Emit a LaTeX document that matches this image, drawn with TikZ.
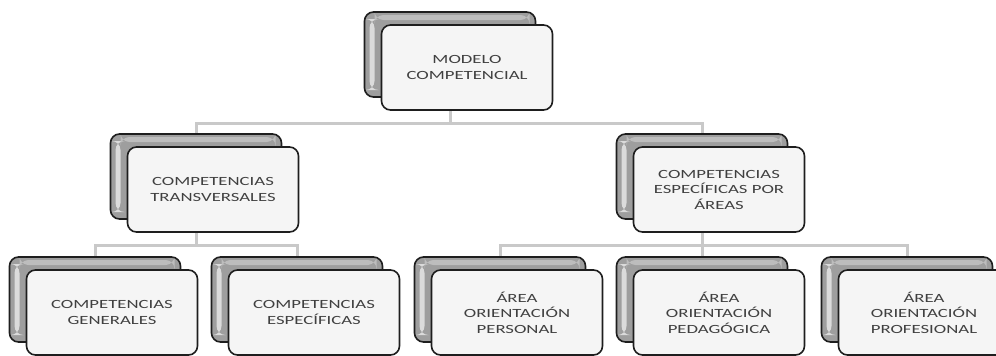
\documentclass[tikz,border=0pt]{standalone}
\usepackage{fontspec}
\newfontfamily\boxfont[FakeStretch=1.5]{Carlito}
\usetikzlibrary{backgrounds}
\definecolor{conncol}{HTML}{C9C9C9}
\definecolor{txtcol}{HTML}{404040}
\definecolor{edgecol}{HTML}{1E1E1E}
\begin{document}
\begin{tikzpicture}[x=1pt,y=-1pt,
  backbox/.style={draw=edgecol, line width=1.6pt, rounded corners=9pt,
    minimum width=171pt, minimum height=85pt, inner sep=0pt,
    fill=black!38,
    path picture={
      \fill[black!14] ([xshift=5pt,yshift=-7pt]path picture bounding box.north west)
        rectangle ([xshift=10pt,yshift=7pt]path picture bounding box.south west);
      \fill[black!26] ([xshift=10pt,yshift=-3pt]path picture bounding box.north west)
        rectangle ([xshift=-6pt,yshift=-8pt]path picture bounding box.north east);
    }},
  frontbox/.style={draw=edgecol, line width=1.6pt, rounded corners=9pt,
    minimum width=171pt, minimum height=85pt, inner sep=2pt,
    fill=black!4, align=center, text=txtcol,
    font=\boxfont\fontsize{12.5}{15.5}\selectfont},
  conn/.style={draw=conncol, line width=3pt}
]
\useasboundingbox (0,0) rectangle (996,356);
\clip (0,0) rectangle (996,356);

% level 0
\node[backbox] (b0) at (450,54.5) {};
\node[frontbox] (f0) at (467,67.5) {MODELO\\COMPETENCIAL};

% level 1
\node[backbox] (b1) at (196,176.5) {};
\node[frontbox] (f1) at (213,189.5) {COMPETENCIAS\\TRANSVERSALES};
\node[backbox] (b2) at (702,176.5) {};
\node[frontbox] (f2) at (719,189.5) {COMPETENCIAS\\ESPECÍFICAS POR\\ÁREAS};

% level 2
\node[backbox] (b3) at (95,299.5) {};
\node[frontbox] (f3) at (112,312.5) {COMPETENCIAS\\GENERALES};
\node[backbox] (b4) at (297,299.5) {};
\node[frontbox] (f4) at (314,312.5) {COMPETENCIAS\\ESPECÍFICAS};
\node[backbox] (b5) at (500,299.5) {};
\node[frontbox] (f5) at (517,312.5) {ÁREA\\ORIENTACIÓN\\PERSONAL};
\node[backbox] (b6) at (702,299.5) {};
\node[frontbox] (f6) at (719,312.5) {ÁREA\\ORIENTACIÓN\\PEDAGÓGICA};
\node[backbox] (b7) at (907,299.5) {};
\node[frontbox] (f7) at (924,312.5) {ÁREA\\ORIENTACIÓN\\PROFESIONAL};

% junctions
\coordinate (j0) at (450,123);
\coordinate (j1) at (196,245);
\coordinate (j2) at (702,245);

\begin{pgfonlayer}{background}
  \draw[conn] (b0.center) -- (j0);
  \draw[conn] (j0) -| (b1.center);
  \draw[conn] (j0) -| (b2.center);
  \draw[conn] (b1.center) -- (j1);
  \draw[conn] (j1) -| (b3.center);
  \draw[conn] (j1) -| (b4.center);
  \draw[conn] (b2.center) -- (j2);
  \draw[conn] (j2) -| (b5.center);
  \draw[conn] (j2) -| (b6.center);
  \draw[conn] (j2) -| (b7.center);
\end{pgfonlayer}
\end{tikzpicture}
\end{document}
